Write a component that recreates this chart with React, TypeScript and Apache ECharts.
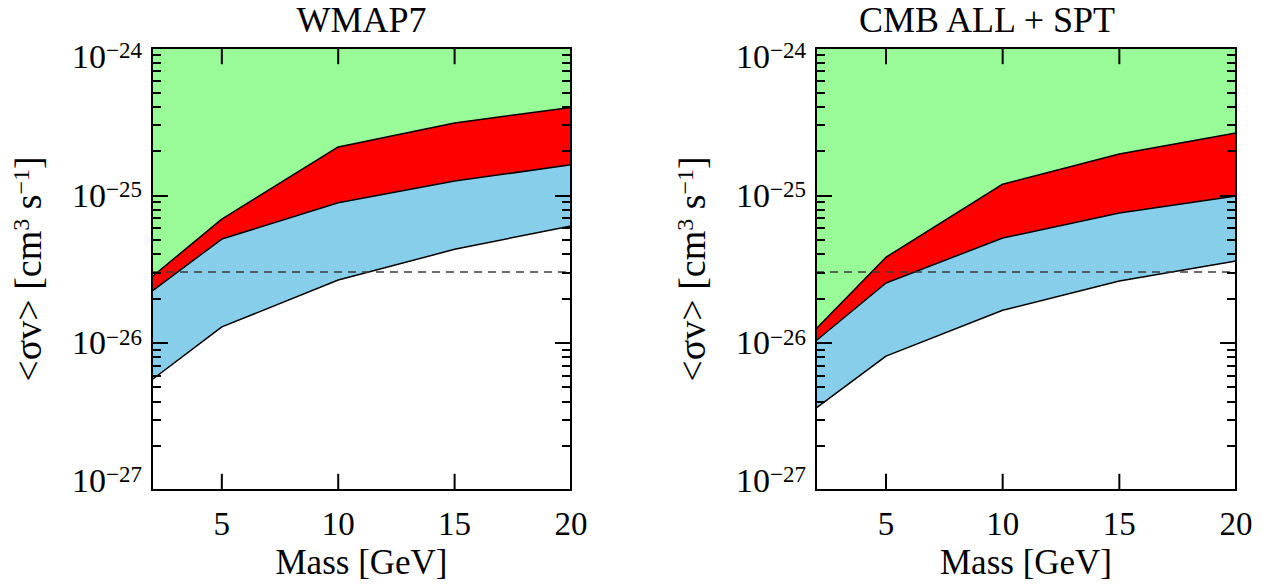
import React, { useEffect, useRef } from "react";
import * as echarts from "echarts";

// ---- data ----
const massGeV = [2, 5, 10, 15, 20];
const xTicks = [5, 10, 15, 20];
const panelTitles = ["WMAP7", "CMB ALL + SPT"];

// WMAP7 panel, <σv> in cm^3 s^-1
const wmapRedUpper = [2.8e-26, 6.9e-26, 2.13e-25, 3.1e-25, 3.95e-25];
const wmapBlueUpper = [2.24e-26, 5.05e-26, 8.9e-26, 1.25e-25, 1.61e-25];
const wmapBlueLower = [5.6e-27, 1.28e-26, 2.66e-26, 4.3e-26, 6.2e-26];

// CMB ALL + SPT panel
const cmbRedUpper = [1.24e-26, 3.8e-26, 1.19e-25, 1.91e-25, 2.65e-25];
const cmbBlueUpper = [1.03e-26, 2.54e-26, 5.13e-26, 7.6e-26, 9.9e-26];
const cmbBlueLower = [3.6e-27, 8.1e-27, 1.66e-26, 2.62e-26, 3.58e-26];

const thermalCrossSection = 3e-26;
// y axis drawn in decades (log10 of <σv>)
const yMinExp = -27;
const yMaxExp = -24;
const minorTickExps: number[] = [];
for (let e = yMinExp; e < yMaxExp; e++) {
  for (let k = 2; k <= 9; k++) minorTickExps.push(e + Math.log10(k));
}
// length of the mass ticks on the frame, in decades of the y scale
const xTickLenDecades = 0.11;

const FONT = "Liberation Serif";
const GREEN = "#98FB98";
const RED = "#FF0000";
const BLUE = "#87CEEB";

function pairs(ys: number[]) {
  return massGeV.map((x, i) => [x, Math.log10(ys[i])]);
}

export default function App() {
  const ref = useRef<HTMLDivElement>(null);
  useEffect(() => {
    if (!ref.current) return;
    const chart = echarts.init(ref.current, undefined, { renderer: "svg" });

    const grids = [
      { left: 152, top: 48, width: 419, height: 442 },
      { left: 816, top: 48, width: 420, height: 442 },
    ];
    const panels = [
      { red: wmapRedUpper, blueU: wmapBlueUpper, blueL: wmapBlueLower },
      { red: cmbRedUpper, blueU: cmbBlueUpper, blueL: cmbBlueLower },
    ];
    const titleShift = [0, 78];

    const xAxes: any[] = [];
    const yAxes: any[] = [];
    const series: any[] = [];

    const supRich = (padTop: number, padBottom: number) => ({
      b: { fontFamily: FONT, fontSize: 34, color: "#000", padding: [padTop, 0, padBottom, 0] },
      s: {
        fontFamily: FONT,
        fontSize: 23,
        color: "#000",
        verticalAlign: "top",
        lineHeight: 14,
        padding: [padTop, 0, padBottom, 0],
      },
    });
    const mid = supRich(0, 0);
    const topR = supRich(16, 0);
    const botR = supRich(0, 20);

    const lineSt = { color: "#000", width: 2 };
    const blank = () => "";

    grids.forEach((g, gi) => {
      // bottom x axis
      xAxes.push({
        gridIndex: gi,
        type: "value",
        position: "bottom",
        min: 2,
        max: 20,
        z: 10,
        name: "Mass [GeV]",
        nameLocation: "middle",
        nameGap: 50,
        nameTextStyle: { fontFamily: FONT, fontSize: 35, color: "#000" },
        axisLine: { show: true, onZero: false, lineStyle: lineSt },
        axisTick: { show: false },
        axisLabel: { show: true, customValues: xTicks, margin: 17, fontFamily: FONT, fontSize: 33, color: "#000" },
        splitLine: { show: false },
      });
      // top x axis (mirror; carries the panel title)
      xAxes.push({
        gridIndex: gi,
        type: "value",
        position: "top",
        min: 2,
        max: 20,
        z: 10,
        name: panelTitles[gi],
        nameLocation: "middle",
        nameGap: 10,
        nameTextStyle: {
          fontFamily: FONT,
          fontSize: 36,
          color: "#000",
          padding: [0, titleShift[gi], 0, 0],
        },
        axisLine: { show: true, onZero: false, lineStyle: lineSt },
        axisTick: { show: false },
        axisLabel: { show: false },
        splitLine: { show: false },
      });

      const yBase = yAxes.length;
      // left major (labels + axis title)
      yAxes.push({
        gridIndex: gi,
        type: "value",
        min: yMinExp,
        max: yMaxExp,
        interval: 1,
        position: "left",
        z: 10,
        name: "{a|<σv> [cm}{s|3}{a| s}{s|−1}{a|]}",
        nameLocation: "middle",
        nameRotate: 90,
        nameGap: 105,
        nameTextStyle: {
          fontFamily: FONT,
          fontSize: 38,
          color: "#000",
          rich: {
            a: { fontFamily: FONT, fontSize: 38, color: "#000" },
            s: { fontFamily: FONT, fontSize: 24, color: "#000", verticalAlign: "top", lineHeight: 16 },
          },
        },
        axisLine: { show: true, onZero: false, lineStyle: lineSt },
        axisTick: { show: true, inside: true, length: 16, lineStyle: lineSt },
        axisLabel: {
          show: true,
          margin: 10,
          formatter: (v: number) => {
            const e = Math.round(v);
            const sup = "−" + String(-e);
            if (e === yMaxExp) return `{bt|10}{st|${sup}}`;
            if (e === yMinExp) return `{bb|10}{sb|${sup}}`;
            return `{b|10}{s|${sup}}`;
          },
          rich: { b: mid.b, s: mid.s, bt: topR.b, st: topR.s, bb: botR.b, sb: botR.s },
        },
        splitLine: { show: false },
      });
      // left minor ticks
      yAxes.push({
        gridIndex: gi,
        type: "value",
        min: yMinExp,
        max: yMaxExp,
        interval: 1,
        position: "left",
        z: 10,
        axisLine: { show: false, onZero: false },
        axisTick: { show: true, inside: true, length: 9, customValues: minorTickExps, lineStyle: lineSt },
        axisLabel: { show: true, customValues: minorTickExps, formatter: blank },
        splitLine: { show: false },
      });
      // right major
      yAxes.push({
        gridIndex: gi,
        type: "value",
        min: yMinExp,
        max: yMaxExp,
        interval: 1,
        position: "right",
        z: 10,
        axisLine: { show: true, onZero: false, lineStyle: lineSt },
        axisTick: { show: true, inside: true, length: 16, lineStyle: lineSt },
        axisLabel: { show: true, formatter: blank },
        splitLine: { show: false },
      });
      // right minor ticks
      yAxes.push({
        gridIndex: gi,
        type: "value",
        min: yMinExp,
        max: yMaxExp,
        interval: 1,
        position: "right",
        z: 10,
        axisLine: { show: false, onZero: false },
        axisTick: { show: true, inside: true, length: 9, customValues: minorTickExps, lineStyle: lineSt },
        axisLabel: { show: true, customValues: minorTickExps, formatter: blank },
        splitLine: { show: false },
      });

      const p = panels[gi];
      const common = {
        type: "line",
        xAxisIndex: gi * 2,
        yAxisIndex: yBase,
        showSymbol: false,
        symbol: "none",
        silent: true,
        lineStyle: { color: "#000", width: 1.5 },
      };
      series.push({ ...common, data: pairs(p.red), areaStyle: { color: RED, opacity: 1, origin: "start" } });
      series.push({ ...common, data: pairs(p.blueU), areaStyle: { color: BLUE, opacity: 1, origin: "start" } });
      series.push({
        ...common,
        data: pairs(p.blueL),
        areaStyle: { color: "#FFFFFF", opacity: 1, origin: "start" },
        markLine: {
          silent: true,
          symbol: "none",
          label: { show: false },
          lineStyle: { color: "#3a3a3a", width: 1.5, type: [8, 6] },
          data: [{ yAxis: Math.log10(thermalCrossSection) }],
        },
      });
      // mass ticks on the bottom and top frame: short vertical line series in data space
      xTicks.forEach((v) => {
        series.push({
          ...common,
          z: 5,
          clip: false,
          lineStyle: { color: "#000", width: 2 },
          data: [
            [v, yMinExp],
            [v, yMinExp + xTickLenDecades],
          ],
        });
        series.push({
          ...common,
          z: 5,
          clip: false,
          lineStyle: { color: "#000", width: 2 },
          data: [
            [v, yMaxExp],
            [v, yMaxExp - xTickLenDecades],
          ],
        });
      });
    });

    chart.setOption({
      animation: false,
      backgroundColor: "#fff",
      grid: grids.map((g) => ({
        ...g,
        show: true,
        backgroundColor: GREEN,
        borderWidth: 0,
        outerBoundsMode: "none",
      })),
      xAxis: xAxes,
      yAxis: yAxes,
      series,
    });

    return () => chart.dispose();
  }, []);

  return <div ref={ref} style={{ position: "absolute", left: 0, top: 0, width: 1263, height: 588 }} />;
}
